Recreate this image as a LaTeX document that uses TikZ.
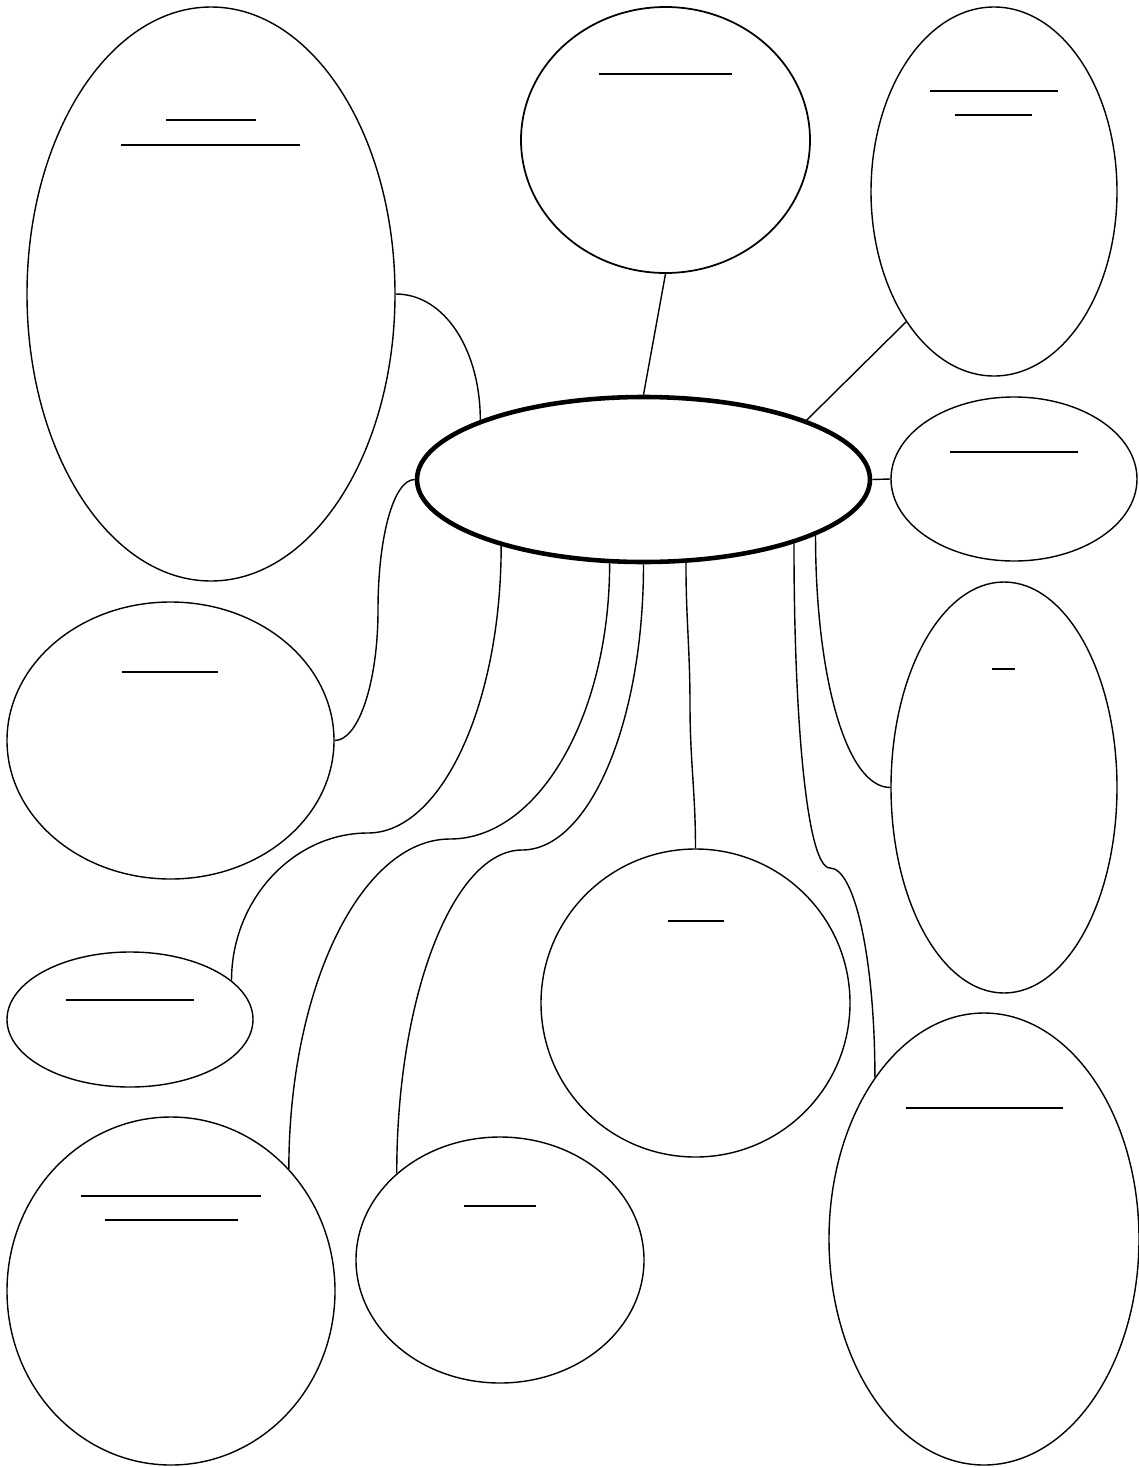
\documentclass[tikz,border=0pt]{standalone}
\usepackage{tikz}
\usetikzlibrary{shapes.geometric}

\begin{document}
\begin{tikzpicture}[x=0.02cm, y=-0.02cm,
    bubble/.style 2 args={draw, ellipse, inner sep=0pt, line width=0.8pt, minimum width=#1*0.02cm, minimum height=#2*0.02cm},
    link/.style={line width=0.8pt},
    uline/.style={line width=1.1pt}]
        \useasboundingbox (0,0) rectangle (1139,1467);

        \node[bubble={453}{165}, line width=2.6pt] (topic) at (643.5,479.5) {};

        \node[bubble={368}{574}] (bigleft) at (211,294) {};
        \node[bubble={289}{266}, line width=1pt] (topmid) at (665.5,140) {};
        \node[bubble={246}{369}] (topright) at (994,191.5) {};
        \node[bubble={246}{164}] (smallright) at (1014,479) {};
        \node[bubble={327}{277}] (midleft) at (170.5,740.5) {};
        \node[bubble={226}{411}] (tallright) at (1004,787.5) {};
        \node[bubble={246}{135}] (smallleft) at (130,1019.5) {};
        \node[bubble={309}{308}] (circle) at (695.5,1003) {};
        \node[bubble={328}{348}] (botleft) at (171,1291) {};
        \node[bubble={288}{246}] (botmid) at (500,1260) {};
        \node[bubble={310}{452}] (botright) at (984,1239) {};

        % blank lines to write on
        \draw[uline] (166,120) -- (256,120);
        \draw[uline] (121,145) -- (300,145);
        \draw[uline] (599,74) -- (732,74);
        \draw[uline] (930,91) -- (1058,91);
        \draw[uline] (955,115) -- (1032,115);
        \draw[uline] (950,452) -- (1078,452);
        \draw[uline] (122,672) -- (218,672);
        \draw[uline] (992,669) -- (1015,669);
        \draw[uline] (66,1000) -- (194,1000);
        \draw[uline] (668,921) -- (724,921);
        \draw[uline] (81,1196) -- (261,1196);
        \draw[uline] (105,1220) -- (238,1220);
        \draw[uline] (464,1206) -- (536,1206);
        \draw[uline] (906,1108) -- (1063,1108);

        \coordinate (bendA) at (378,610);
        \coordinate (bendB) at (368,833);
        \coordinate (bendC) at (450,839);
        \coordinate (bendD) at (522,850);
        \coordinate (bendE) at (690,705);
        \coordinate (bendF) at (830,868);

        \draw[link] (topic.north) -- (topmid.south);
        \draw[link] (topic.20) -- (topright.-124.5);
        \draw[link] (topic.east) -- (smallright.west);
        \draw[link] (bigleft.east) .. controls +(49,0) and +(0,-70) .. (topic.160);
        \draw[link] (topic.west) .. controls +(-21.5,0) and +(0,-72) .. (bendA)
            .. controls +(0,72) and +(24,0) .. (midleft.east);
        \draw[link] (topic.-155.5) .. controls +(0,159) and +(73,0) .. (bendB)
            .. controls +(-74.5,0) and +(0,-81) .. (smallleft.21);
        \draw[link] (topic.-112) .. controls +(0,153) and +(88,0) .. (bendC)
            .. controls +(-89,0) and +(0,-181) .. (botleft.46.7);
        \draw[link] (topic.south) .. controls +(0,159) and +(67,0) .. (bendD)
            .. controls +(-68,0) and +(0,-179) .. (botmid.140);
        \draw[link] (topic.-63) to[out=-90, in=90] (bendE) to[out=-90, in=90] (circle.north);
        \draw[link] (topic.-23.5) .. controls +(0,178) and +(-23,0) .. (bendF)
            .. controls +(25,0) and +(0,-117) .. (botright.124.4);
        \draw[link] (topic.-18.8) .. controls +(0,138) and +(-45,0) .. (tallright.west);
    \end{tikzpicture}
\end{document}
